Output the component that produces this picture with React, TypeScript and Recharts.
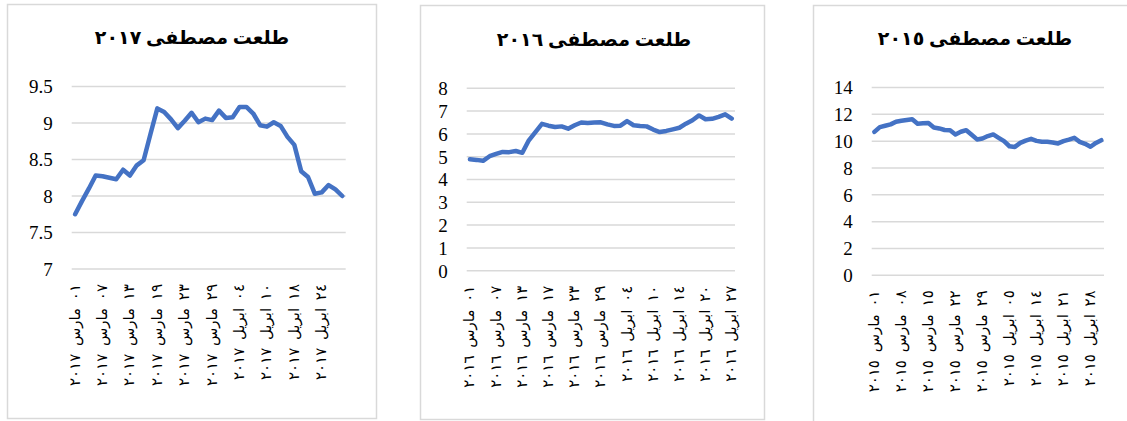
import React from "react";
import { LineChart, Line, XAxis, YAxis, CartesianGrid } from "recharts";

// trading days shown on the category axis (March / April)
const marchDays2017 = [1, 2, 5, 6, 7, 8, 9, 12, 13, 14, 15, 16, 19, 20, 21, 22, 23, 26, 27, 28, 29, 30];
const aprilDays2017 = [2, 3, 4, 5, 6, 9, 10, 11, 12, 13, 18, 19, 20, 23, 24, 25, 26, 27];
const values2017 = [
  7.75, 7.93, 8.1, 8.28, 8.27, 8.25, 8.23, 8.36, 8.28, 8.42,
  8.49, 8.85, 9.2, 9.15, 9.05, 8.93, 9.03, 9.14, 9.01, 9.06,
  9.04, 9.17, 9.07, 9.08, 9.22, 9.22, 9.13, 8.97, 8.95, 9.01,
  8.96, 8.81, 8.7, 8.34, 8.26, 8.03, 8.05, 8.15, 8.09, 8.0,
];

const marchDays2016 = [1, 2, 3, 6, 7, 8, 9, 10, 13, 14, 15, 16, 17, 20, 21, 22, 23, 24, 27, 28, 29, 30, 31];
const aprilDays2016 = [3, 4, 5, 6, 7, 10, 11, 12, 13, 14, 17, 18, 19, 20, 21, 24, 26, 27];
const values2016 = [
  4.89, 4.86, 4.82, 5.02, 5.12, 5.21, 5.2, 5.25, 5.17, 5.72,
  6.08, 6.44, 6.36, 6.3, 6.33, 6.23, 6.38, 6.5, 6.48, 6.5,
  6.51, 6.42, 6.35, 6.36, 6.56, 6.38, 6.35, 6.33, 6.19, 6.08,
  6.13, 6.2, 6.27, 6.45, 6.6, 6.81, 6.64, 6.66, 6.75, 6.86,
  6.67,
];

const marchDays2015 = [1, 2, 3, 4, 5, 8, 9, 10, 11, 12, 15, 16, 17, 18, 19, 22, 23, 24, 25, 26, 29, 30, 31];
const aprilDays2015 = [1, 2, 5, 6, 7, 8, 9, 14, 15, 16, 19, 20, 21, 22, 23, 26, 27, 28, 29, 30];
const values2015 = [
  10.69, 11.05, 11.15, 11.25, 11.45, 11.52, 11.58, 11.64, 11.3, 11.33,
  11.36, 11.02, 10.95, 10.83, 10.82, 10.5, 10.7, 10.82, 10.48, 10.13,
  10.2, 10.38, 10.5, 10.25, 10.0, 9.62, 9.57, 9.87, 10.04, 10.17,
  10.02, 9.95, 9.95, 9.9, 9.83, 10.0, 10.12, 10.25, 9.95, 9.8,
  9.58, 9.87, 10.07,
];

const ticks2017 = [7, 7.5, 8, 8.5, 9, 9.5];
const ticks2016 = [0, 1, 2, 3, 4, 5, 6, 7, 8];
const ticks2015 = [0, 2, 4, 6, 8, 10, 12, 14];

const MARCH = "مارس";
const APRIL = "ابريل";
const TITLE = "طلعت مصطفى";

const arabicDigits = (s: string) => s.replace(/[0-9]/g, (d) => "٠١٢٣٤٥٦٧٨٩"[Number(d)]);

function buildRows(year: number, march: number[], april: number[], values: number[]) {
  const dates = [
    ...march.map((d) => [d, MARCH] as const),
    ...april.map((d) => [d, APRIL] as const),
  ];
  return dates.map(([d, m], i) => ({
    date: `${arabicDigits(String(d).padStart(2, "0"))} ${m} ${arabicDigits(String(year))}`,
    value: values[i],
  }));
}

const H = 421;
const XAXIS_H = 130;
const YAXIS_W = 40;
const BLUE = "#4472C4";
const GRID = "#d9d9d9";
const SERIF = "Liberation Serif, Times New Roman, DejaVu Sans, serif";

const panels = [
  {
    year: 2017, rows: buildRows(2017, marchDays2017, aprilDays2017, values2017),
    ticks: ticks2017, interval: 3,
    box: { left: 7, top: 4, width: 369, height: 414 },
    chartW: 369,
    plot: { left: 71.7, right: 345.7, top: 86.5, bottom: 269 },
    title: { x: 192, y: 44 },
  },
  {
    year: 2016, rows: buildRows(2016, marchDays2016, aprilDays2016, values2016),
    ticks: ticks2016, interval: 3,
    box: { left: 420, top: 5, width: 344, height: 414 },
    chartW: 344,
    plot: { left: 466.7, right: 735, top: 88.3, bottom: 270.7 },
    title: { x: 594, y: 46 },
  },
  {
    year: 2015, rows: buildRows(2015, marchDays2015, aprilDays2015, values2015),
    ticks: ticks2015, interval: 4,
    box: { left: 813, top: 5, width: 340, height: 430 },
    chartW: 314,
    plot: { left: 871.7, right: 1104, top: 87.5, bottom: 275.3 },
    title: { x: 975, y: 44.5 },
  },
];

function DateTick(props: any) {
  const { x, y, payload } = props;
  return (
    <text
      x={x}
      y={y}
      dy="0.3em"
      textAnchor="end"
      transform={`rotate(-90, ${x}, ${y})`}
      fontFamily={SERIF}
      fontSize={15}
      wordSpacing={4}
      fill="#000"
    >
      {payload.value}
    </text>
  );
}

function ValueTick(props: any) {
  const { x, y, payload } = props;
  return (
    <text x={x} y={y} dy="0.36em" textAnchor="end" fontFamily={SERIF} fontSize={19} fill="#000">
      {payload.value}
    </text>
  );
}

export default function App() {
  return (
    <div style={{ position: "absolute", left: 0, top: 0, width: 1127, height: H, overflow: "hidden", background: "#fff" }}>
      <svg width={1127} height={H} style={{ position: "absolute", left: 0, top: 0 }}>
        {panels.map((p) => (
          <g key={p.year}>
            <rect
              x={p.box.left + 0.5}
              y={p.box.top + 0.5}
              width={p.box.width}
              height={p.box.height}
              fill="#fff"
              stroke={GRID}
              strokeWidth={1.5}
            />
            <text
              x={p.title.x}
              y={p.title.y}
              textAnchor="middle"
              fontFamily={SERIF}
              fontWeight="bold"
              fontSize={19}
              fill="#000"
            >
              {`${TITLE} ${arabicDigits(String(p.year))}`}
            </text>
          </g>
        ))}
      </svg>
      {panels.map((p) => {
        const n = p.rows.length;
        const plotW = p.plot.right - p.plot.left;
        const pad = plotW / (2 * n);
        const margin = {
          top: p.plot.top,
          bottom: H - p.plot.bottom - XAXIS_H,
          left: p.plot.left - p.box.left - YAXIS_W,
          right: p.box.left + p.chartW - p.plot.right,
        };
        return (
          <div key={p.year} style={{ position: "absolute", left: p.box.left, top: 0 }}>
            <LineChart width={p.chartW} height={H} data={p.rows} margin={margin}>
              <CartesianGrid vertical={false} stroke={GRID} strokeWidth={1.5} />
              <XAxis
                dataKey="date"
                interval={p.interval}
                axisLine={false}
                tickLine={false}
                tickSize={0}
                tickMargin={15}
                height={XAXIS_H}
                padding={{ left: pad, right: pad }}
                tick={<DateTick />}
              />
              <YAxis
                domain={[p.ticks[0], p.ticks[p.ticks.length - 1]]}
                ticks={p.ticks}
                interval={0}
                width={YAXIS_W}
                axisLine={false}
                tickLine={false}
                tickSize={0}
                tickMargin={19}
                tick={<ValueTick />}
              />
              <Line
                type="linear"
                dataKey="value"
                stroke={BLUE}
                strokeWidth={4.5}
                strokeLinejoin="round"
                strokeLinecap="round"
                dot={false}
                isAnimationActive={false}
              />
            </LineChart>
          </div>
        );
      })}
    </div>
  );
}
